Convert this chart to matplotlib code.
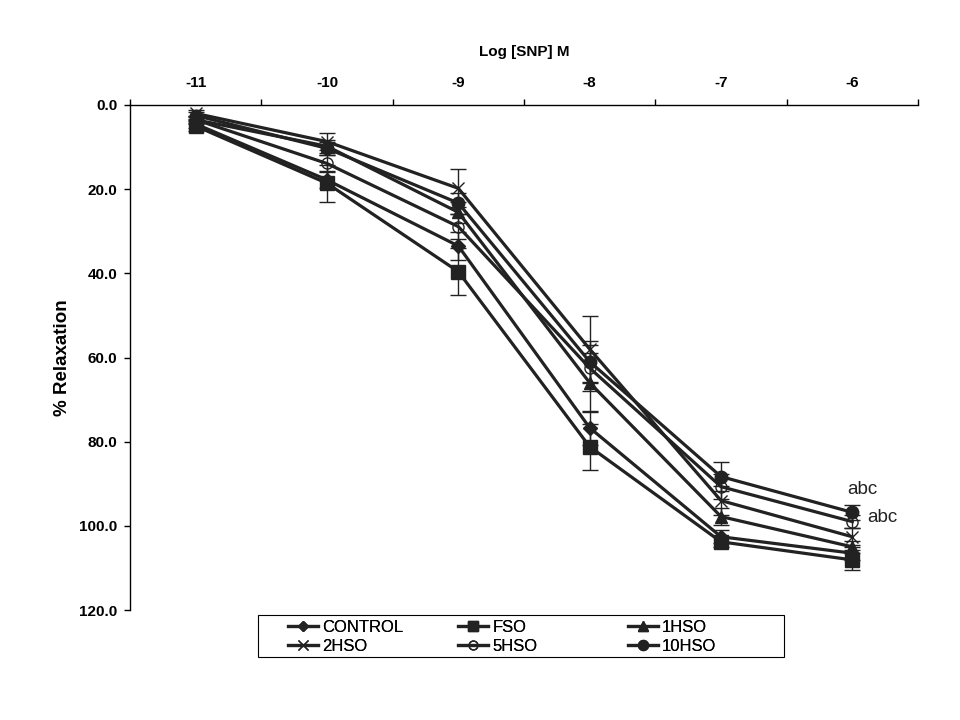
import matplotlib
matplotlib.use("Agg")
import matplotlib.pyplot as plt
from matplotlib.patches import Rectangle
import numpy as np

plt.rcParams['font.family'] = ['Liberation Sans', 'DejaVu Sans']

# ---- data ----
x_labels = ["-11", "-10", "-9", "-8", "-7", "-6"]
series_names = ["CONTROL", "FSO", "1HSO", "2HSO", "5HSO", "10HSO"]

control = [4.5, 17.8, 33.5, 76.7, 102.6, 106.5]
fso = [5.0, 18.6, 39.6, 81.2, 103.8, 108.1]
hso1 = [3.5, 9.8, 25.5, 66.0, 97.8, 105.0]
hso2 = [2.0, 8.7, 19.8, 58.0, 94.0, 102.6]
hso5 = [3.5, 13.9, 28.9, 62.5, 90.7, 99.0]
hso10 = [2.5, 10.3, 23.3, 61.0, 88.3, 96.8]

control_err = [1.0, 2.0, 3.3, 4.0, 1.5, 1.5]
fso_err = [1.2, 4.4, 5.6, 5.5, 1.2, 2.4]
hso1_err = [0.8, 1.5, 2.5, 7.0, 2.0, 1.5]
hso2_err = [0.8, 2.0, 4.5, 7.9, 3.5, 2.0]
hso5_err = [1.0, 2.0, 3.0, 5.5, 3.0, 1.5]
hso10_err = [0.8, 1.5, 2.5, 5.0, 3.5, 1.8]

y_ticks = [0, 20, 40, 60, 80, 100, 120]

values = [control, fso, hso1, hso2, hso5, hso10]
errors = [control_err, fso_err, hso1_err, hso2_err, hso5_err, hso10_err]

# ---- styles ----
col = '#222222'
styles = [
    dict(marker='D', ms=7, mfc=col, mec=col),
    dict(marker='s', ms=9.5, mfc=col, mec=col),
    dict(marker='^', ms=9, mfc=col, mec=col),
    dict(marker='x', ms=9, mfc=col, mec=col, mew=1.0),
    dict(marker='o', ms=8, mfc='none', mec=col, mew=1.0),
    dict(marker='o', ms=9, mfc=col, mec=col),
]

fig = plt.figure(figsize=(9.6, 7.2), dpi=100)
ax = fig.add_axes([130 / 960, 1 - 610 / 720, 788 / 960, 505 / 720])

xpos = np.arange(len(x_labels))
handles = []
for name, v, e, st in zip(series_names, values, errors, styles):
    ax.errorbar(xpos, v, yerr=e, fmt='none', ecolor=col, elinewidth=1.0,
                capsize=6, capthick=1.0, zorder=2, clip_on=False)
    h, = ax.plot(xpos, v, color=col, lw=2.3, label=name, zorder=3,
                 clip_on=False, **st)
    handles.append(h)

ax.set_xlim(-0.5, 5.5)
ax.set_ylim(120, 0)

for s in ['right', 'bottom']:
    ax.spines[s].set_visible(False)
for s in ['left', 'top']:
    ax.spines[s].set_linewidth(1.0)
    ax.spines[s].set_color('black')

ax.set_yticks(y_ticks)
ax.set_yticklabels([f"{t:.1f}" for t in y_ticks], fontsize=11, fontweight='bold')
ax.tick_params(axis='y', direction='out', length=4, width=1, pad=5, colors='black')

ax.xaxis.set_ticks_position('top')
ax.xaxis.set_label_position('top')
ax.set_xticks(np.arange(-0.5, 6.0, 1.0))
ax.set_xticklabels([])
ax.set_xticks(xpos, minor=True)
ax.set_xticklabels(x_labels, minor=True, fontsize=11, fontweight='bold')
ax.tick_params(axis='x', which='major', direction='out', length=4, width=1,
               top=True, bottom=False)
ax.tick_params(axis='x', which='minor', length=0, pad=11, top=True,
               bottom=False, labeltop=True, labelbottom=False)

ax.set_xlabel("Log [SNP] M", fontsize=11, fontweight='bold', labelpad=14)
ax.set_ylabel("% Relaxation", fontsize=13.5, fontweight='bold', labelpad=6)

ax.text(4.96, 91.4, "abc", fontsize=13.5, ha='left', va='center', color='#222222')
ax.text(5.11, 98.0, "abc", fontsize=13.5, ha='left', va='center', color='#222222')

# ---- legend ----
fig.patches.append(Rectangle((258 / 960, 1 - 657 / 720), 526 / 960, 42 / 720,
                             transform=fig.transFigure, fill=False,
                             edgecolor='black', lw=0.8))
col_x = [288 / 960, 458 / 960, 628 / 960]
cols = [[handles[0], handles[3]], [handles[1], handles[4]], [handles[2], handles[5]]]
for cx, hs in zip(col_x, cols):
    leg = fig.legend(handles=hs, labels=[h.get_label() for h in hs],
                     loc='center left', bbox_to_anchor=(cx, 1 - 637 / 720),
                     frameon=False, fontsize=12, handlelength=1.8,
                     handletextpad=0.25, labelspacing=0.25, borderpad=0,
                     borderaxespad=0, markerscale=0.8)
    fig.add_artist(leg)

fig.savefig("out.png", dpi=100)
